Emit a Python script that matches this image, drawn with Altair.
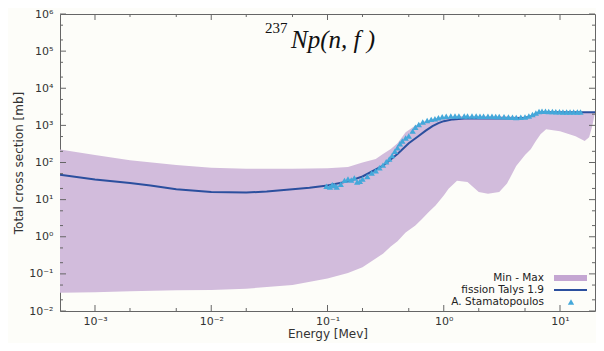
import json
import altair as alt
import pandas as pd

# ---------------- data ----------------
band_energy = [5e-4, 1e-3, 2e-3, 5e-3, 0.01, 0.02, 0.05, 0.1, 0.15, 0.2, 0.26, 0.3, 0.35,
               0.4, 0.47, 0.57, 0.65, 0.75, 0.85, 1.0, 1.1, 1.3, 1.6, 2.0, 2.4, 3.0, 3.5,
               4.2, 5.0, 5.6, 6.2, 6.8, 7.6, 10.0, 13.6, 16.3, 17.8, 19.0, 20.0]
band_high = [225, 160, 115, 85, 72, 68, 68, 70, 76, 100, 125, 170, 230,
             330, 650, 1000, 1230, 1400, 1550, 1650, 1700, 1780, 1800, 1800, 1790, 1770, 1750,
             1720, 1700, 1800, 2000, 2400, 2350, 2300, 2280, 2260, 2250, 2250, 2250]
band_low = [0.031, 0.032, 0.034, 0.036, 0.037, 0.04, 0.05, 0.075, 0.105, 0.15, 0.26, 0.35, 0.55,
            0.76, 1.3, 2.0, 3.0, 4.8, 7.0, 13, 19.5, 32, 30, 16, 14.5, 16, 27,
            81, 160, 229, 380, 575, 790, 700, 510, 380, 480, 1000, 2250]

talys_energy = [5e-4, 1e-3, 2e-3, 3e-3, 5e-3, 0.01, 0.02, 0.03, 0.05, 0.07, 0.1, 0.15, 0.2,
                0.3, 0.4, 0.5, 0.6, 0.7, 0.8, 0.9, 1.0, 1.2, 1.5, 2.0, 3.0, 4.0, 5.0, 5.5,
                6.0, 6.5, 7.0, 10.0, 15.0, 20.0]
talys_xs = [47, 35, 28, 24, 19, 16, 15.5, 16.5, 19, 21, 24, 31, 42,
            82, 170, 330, 500, 720, 950, 1150, 1300, 1450, 1520, 1550, 1540, 1530, 1600, 1700,
            1950, 2150, 2250, 2250, 2250, 2250]

exp_energy = [0.098, 0.105, 0.11, 0.115, 0.12, 0.13, 0.14, 0.15, 0.16, 0.17, 0.18, 0.19, 0.2,
              0.22, 0.24, 0.26, 0.28, 0.30, 0.32, 0.34, 0.36, 0.38, 0.40, 0.42, 0.44, 0.47,
              0.50, 0.54, 0.57, 0.61, 0.66, 0.72, 0.78, 0.84, 0.9, 0.97, 1.05, 1.15, 1.25,
              1.35, 1.5, 1.6, 1.75, 1.9, 2.05, 2.2, 2.4, 2.6, 2.8, 3.0, 3.3, 3.6, 3.9, 4.2,
              4.6, 5.0, 5.4, 5.8, 6.2, 6.6, 7.0, 7.5, 8.0, 8.6, 9.2, 9.9, 10.6, 11.4, 12.2,
              13.1, 14.1, 15.0]
exp_xs = [23, 22, 25, 24, 22, 26, 33, 36, 34, 38, 30, 31, 36,
          42, 52, 60, 72, 85, 105, 125, 155, 200, 250, 320, 380, 460,
          520, 700, 890, 1050, 1230, 1350, 1450, 1500, 1600, 1700, 1750, 1780, 1800,
          1790, 1800, 1780, 1790, 1780, 1760, 1770, 1760, 1750, 1740, 1730, 1700, 1680, 1660, 1640,
          1650, 1680, 1800, 1950, 2150, 2350, 2400, 2400, 2380, 2350, 2330, 2320, 2300, 2300, 2280,
          2290, 2300, 2300]

x_decades = [1e-3, 1e-2, 1e-1, 1.0, 10.0]
x_decade_labels = ["10⁻³", "10⁻²", "10⁻¹", "10⁰", "10¹"]
x_minor = [2e-3, 5e-3, 2e-2, 5e-2, 0.2, 0.5, 2.0, 5.0]
y_decades = [1e-2, 1e-1, 1.0, 10.0, 100.0, 1e3, 1e4, 1e5, 1e6]
y_decade_labels = ["10⁻²", "10⁻¹", "10⁰", "10¹", "10²", "10³", "10⁴", "10⁵", "10⁶"]
y_minor = [2e-2, 5e-2, 0.2, 0.5, 2, 5, 20, 50, 200, 500, 2e3, 5e3, 2e4, 5e4, 2e5, 5e5]

legend_labels = ["Min - Max", "fission  Talys 1.9", "A. Stamatopoulos"]

# ---------------- layout ----------------
W, H = 535, 297
FONT = "DejaVu Sans"
BAND = "#d2bcdc"
LINE = "#2b4f9e"
PTS = "#44a8da"
FRAME = "#666666"

band_df = pd.DataFrame({"E": band_energy, "low": band_low, "high": band_high})
talys_df = pd.DataFrame({"E": talys_energy, "xs": talys_xs})
exp_df = pd.DataFrame({"E": exp_energy, "xs": exp_xs})
one = pd.DataFrame({"a": [0]})

xscale = alt.Scale(type="log", domain=[5e-4, 20], nice=False)
yscale = alt.Scale(type="log", domain=[1e-2, 1e6], nice=False)

xlab_expr = json.dumps(x_decade_labels, ensure_ascii=False) + "[round(log(datum.value)/LN10)+3]"
ylab_expr = json.dumps(y_decade_labels, ensure_ascii=False) + "[round(log(datum.value)/LN10)+2]"

xaxis = alt.Axis(values=x_decades, labelExpr=xlab_expr, ticks=False, domain=False, grid=False,
                 title="Energy [Mev]", labelFont=FONT, labelFontSize=11, labelColor="#333",
                 labelPadding=4, titleFont=FONT, titleFontSize=12, titleFontWeight="normal",
                 titleColor="#333", titlePadding=2, labelFlush=False)
yaxis = alt.Axis(values=y_decades, labelExpr=ylab_expr, ticks=False, domain=False, grid=False,
                 title="Total cross section [mb]", labelFont=FONT, labelFontSize=11,
                 labelColor="#333", labelPadding=7, titleFont=FONT, titleFontSize=12,
                 titleFontWeight="normal", titleColor="#333", titlePadding=3, labelFlush=False)

band = alt.Chart(band_df).mark_area(color=BAND, opacity=1, clip=True).encode(
    x=alt.X("E:Q", scale=xscale, axis=xaxis),
    y=alt.Y("high:Q", scale=yscale, axis=yaxis),
    y2="low:Q",
)
talys = alt.Chart(talys_df).mark_line(color=LINE, strokeWidth=2, clip=True).encode(
    x=alt.X("E:Q", scale=xscale), y=alt.Y("xs:Q", scale=yscale))
exp = alt.Chart(exp_df).mark_point(shape="triangle-up", filled=True, size=40, color=PTS,
                                   opacity=1, clip=True).encode(
    x=alt.X("E:Q", scale=xscale), y=alt.Y("xs:Q", scale=yscale))

# inward ticks
xmaj = pd.DataFrame({"v": x_decades})
xmin_ = pd.DataFrame({"v": x_minor})
ymaj = pd.DataFrame({"v": y_decades})
ymin_ = pd.DataFrame({"v": y_minor})


def xticks(df, length):
    b = alt.Chart(df).mark_rule(color=FRAME, strokeWidth=1).encode(
        x=alt.X("v:Q", scale=xscale), y=alt.value(H), y2=alt.value(H - length))
    t = alt.Chart(df).mark_rule(color=FRAME, strokeWidth=1).encode(
        x=alt.X("v:Q", scale=xscale), y=alt.value(0), y2=alt.value(length))
    return [b, t]


def yticks(df, length):
    l = alt.Chart(df).mark_rule(color=FRAME, strokeWidth=1).encode(
        y=alt.Y("v:Q", scale=yscale), x=alt.value(0), x2=alt.value(length))
    r = alt.Chart(df).mark_rule(color=FRAME, strokeWidth=1).encode(
        y=alt.Y("v:Q", scale=yscale), x=alt.value(W), x2=alt.value(W - length))
    return [l, r]


ticks = xticks(xmaj, 6) + xticks(xmin_, 3) + yticks(ymaj, 6) + yticks(ymin_, 3)

# title
t237 = alt.Chart(one).mark_text(text="237", font="Liberation Serif", fontSize=15, align="left",
                                baseline="alphabetic", color="#111").encode(
    x=alt.value(205), y=alt.value(19))
tmain = alt.Chart(one).mark_text(text="Np(n, f )", font="Liberation Serif", fontSize=25,
                                 fontStyle="italic", align="left", baseline="alphabetic",
                                 color="#111").encode(x=alt.value(231), y=alt.value(34))

# legend
lx = 484
leg_text = [
    alt.Chart(one).mark_text(text=lab, font=FONT, fontSize=10.5, align="right", baseline="middle",
                             color="#222").encode(x=alt.value(lx), y=alt.value(yy))
    for lab, yy in zip(legend_labels, [264, 276, 288])
]
leg_band = alt.Chart(one).mark_rule(color="#c4a6d2", strokeWidth=6).encode(
    x=alt.value(494), x2=alt.value(527), y=alt.value(264))
leg_line = alt.Chart(one).mark_rule(color=LINE, strokeWidth=2).encode(
    x=alt.value(494), x2=alt.value(527), y=alt.value(276))
leg_pt = alt.Chart(one).mark_point(shape="triangle-up", filled=True, size=40, color=PTS,
                                   opacity=1).encode(x=alt.value(511), y=alt.value(288))

chart = alt.layer(band, talys, exp, *ticks, t237, tmain, *leg_text, leg_band, leg_line, leg_pt).properties(
    width=W, height=H,
    autosize=alt.AutoSizeParams(type="none"),
    padding={"left": 52, "top": 6, "right": 1, "bottom": 32},
    background="#fdfdf9",
).configure_view(stroke=FRAME, strokeWidth=1)

chart.save("out.html", embed_options={"renderer": "svg", "actions": False})
